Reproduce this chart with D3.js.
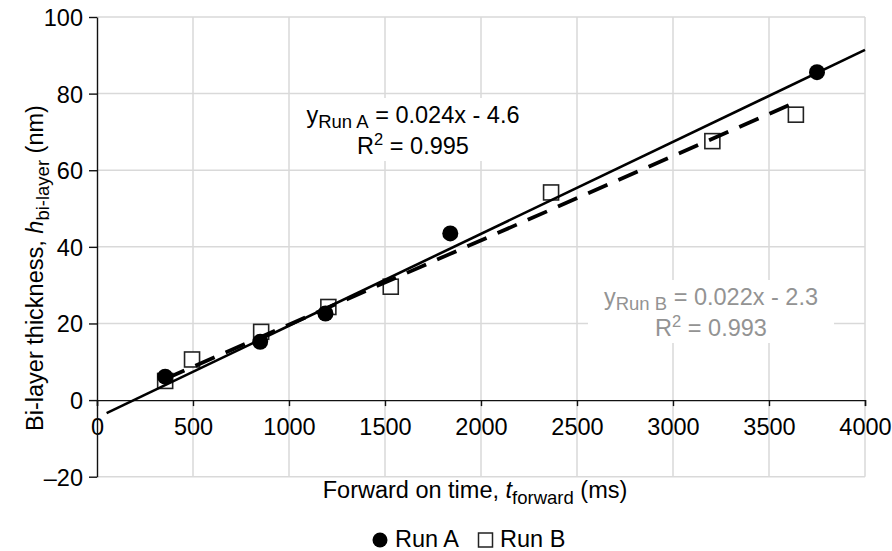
<!DOCTYPE html>
<html>
<head>
<meta charset="utf-8">
<script src="https://cdn.jsdelivr.net/npm/d3@7"></script>
<style>
body { margin: 0; background: #fff; }
text { font-family: "Liberation Sans", Arial, Helvetica, sans-serif; fill: #000; }
</style>
</head>
<body>
<svg id="chart"></svg>
<script>
let width = 892, height = 551;

// Run A (filled circles)
let runA_t = [355, 850, 1190, 1840, 3750];
let runA_h = [6.1, 15.2, 22.6, 43.5, 85.6];
// Run B (open squares)
let runB_t = [355, 495, 855, 1205, 1530, 2365, 3205, 3640];
let runB_h = [5.0, 10.6, 17.8, 24.3, 29.6, 54.2, 67.6, 74.5];

// linear trendlines as printed on the chart
let fitA = {slope: 0.024, icpt: -4.6, r2: "0.995", from: 50, to: 4000};
let fitB = {slope: 0.022, icpt: -2.3, r2: "0.993", from: 355, to: 3640};

let xTicks = [0, 500, 1000, 1500, 2000, 2500, 3000, 3500, 4000];
let yTicks = [-20, 0, 20, 40, 60, 80, 100];

let svg = d3.select("#chart")
  .attr("width", width)
  .attr("height", height);

let left = 97, right = 865, top_sp = 17, bottom = 476.7;
let fs = 23.5, fsSub = 18.5;

let xax = d3.scaleLinear()
  .domain([0, 4000])
  .range([left, right]);
let yax = d3.scaleLinear()
  .domain([-20, 100])
  .range([bottom, top_sp]);

//gridlines
let grid = svg.append("g");
grid.selectAll(".vg")
  .data(xTicks.filter(d => d > 0))
  .join("line")
  .attr("x1", d => xax(d)).attr("x2", d => xax(d))
  .attr("y1", top_sp).attr("y2", bottom)
  .attr("stroke", "#d9d9d9")
  .attr("stroke-width", 1.5);
grid.selectAll(".hg")
  .data(yTicks.filter(d => d != 0))
  .join("line")
  .attr("x1", left).attr("x2", right)
  .attr("y1", d => yax(d)).attr("y2", d => yax(d))
  .attr("stroke", "#d9d9d9")
  .attr("stroke-width", 1.5);

//x axis sits on y = 0
let xax_draw = d3.axisBottom(xax)
  .tickValues(xTicks)
  .tickSize(6)
  .tickFormat(d => d);
let gx = svg.append("g")
  .attr("transform", `translate(0, ${yax(0)})`)
  .call(xax_draw);
gx.select(".domain").attr("stroke", "#111").attr("stroke-width", 1.4);
gx.selectAll(".tick line").attr("stroke", "#111").attr("stroke-width", 1.4);
gx.selectAll(".tick text")
  .attr("y", 35).attr("dy", null)
  .attr("font-size", fs)
  .attr("font-family", null);

let yax_draw = d3.axisLeft(yax)
  .tickValues(yTicks)
  .tickSize(8)
  .tickSizeOuter(0)
  .tickFormat(d => d < 0 ? "\u2013" + Math.abs(d) : d);
let gy = svg.append("g")
  .attr("transform", `translate(${left}, 0)`)
  .call(yax_draw);
gy.select(".domain").attr("stroke", "#111").attr("stroke-width", 1.4);
gy.selectAll(".tick line").attr("stroke", "#111").attr("stroke-width", 1.4);
gy.selectAll(".tick text")
  .attr("x", -14).attr("dy", "0.36em")
  .attr("font-size", fs)
  .attr("font-family", null);

//markers
svg.append("g").selectAll("rect")
  .data(runB_t.map((t, i) => ({t: t, h: runB_h[i]})))
  .join("rect")
  .attr("x", d => xax(d.t) - 7.5)
  .attr("y", d => yax(d.h) - 7.5)
  .attr("width", 15).attr("height", 15)
  .attr("fill", "#fff")
  .attr("stroke", "#222")
  .attr("stroke-width", 1.6);
svg.append("g").selectAll("circle")
  .data(runA_t.map((t, i) => ({t: t, h: runA_h[i]})))
  .join("circle")
  .attr("cx", d => xax(d.t))
  .attr("cy", d => yax(d.h))
  .attr("r", 8)
  .attr("fill", "#000");

//trendlines
function fitLine(f) {
  return d3.line()
    .x(d => xax(d))
    .y(d => yax(f.slope * d + f.icpt))([f.from, f.to]);
}
svg.append("path")
  .attr("d", fitLine(fitB))
  .attr("stroke", "#000")
  .attr("stroke-width", 3.8)
  .attr("stroke-dasharray", "21,12")
  .attr("fill", "none");
svg.append("path")
  .attr("d", fitLine(fitA))
  .attr("stroke", "#000")
  .attr("stroke-width", 2.6)
  .attr("fill", "none");

//equation labels (white boxed, like the spreadsheet)
function eqLabel(cx, y1, name, f, color) {
  let g = svg.append("g");
  let box = g.append("rect").attr("fill", "#fff");
  let sign = f.icpt < 0 ? " - " : " + ";
  let t1 = g.append("text")
    .attr("x", cx).attr("y", y1)
    .attr("text-anchor", "middle")
    .attr("font-size", fs)
    .style("fill", color);
  t1.append("tspan").text("y");
  t1.append("tspan").text(name).attr("font-size", fsSub).attr("dy", 5);
  t1.append("tspan").text(` = ${f.slope}x${sign}${Math.abs(f.icpt)}`).attr("dy", -5);
  let t2 = g.append("text")
    .attr("x", cx).attr("y", y1 + 31)
    .attr("text-anchor", "middle")
    .attr("font-size", fs)
    .style("fill", color);
  t2.append("tspan").text("R");
  t2.append("tspan").text("2").attr("font-size", fsSub - 2).attr("dy", -9);
  t2.append("tspan").text(` = ${f.r2}`).attr("dy", 9);
  let b1 = t1.node().getBBox(), b2 = t2.node().getBBox();
  let x0 = Math.min(b1.x, b2.x) - 16, x1 = Math.max(b1.x + b1.width, b2.x + b2.width) + 16;
  box.attr("x", x0).attr("y", b1.y - 4)
    .attr("width", x1 - x0)
    .attr("height", b2.y + b2.height - b1.y + 6);
}
eqLabel(413, 123, "Run A", fitA, "#000");
eqLabel(711, 305, "Run B", fitB, "#939393");

//axis titles
let xt = svg.append("text")
  .attr("x", 475).attr("y", 498)
  .attr("text-anchor", "middle")
  .attr("font-size", fs);
xt.append("tspan").text("Forward on time, ");
xt.append("tspan").text("t").attr("font-style", "italic");
xt.append("tspan").text("forward").attr("font-size", fsSub).attr("dy", 6);
xt.append("tspan").text(" (ms)").attr("dy", -6);

let yt = svg.append("text")
  .attr("text-anchor", "middle")
  .attr("transform", `translate(43, 268) rotate(-90)`)
  .attr("font-size", fs);
yt.append("tspan").text("Bi-layer thickness, ");
yt.append("tspan").text("h").attr("font-style", "italic");
yt.append("tspan").text("bi-layer").attr("font-size", fsSub).attr("dy", 6);
yt.append("tspan").text(" (nm)").attr("dy", -6);

//legend
let leg = svg.append("g");
leg.append("circle")
  .attr("cx", 380).attr("cy", 540).attr("r", 7.5)
  .attr("fill", "#000");
leg.append("text")
  .attr("x", 395).attr("y", 547)
  .attr("font-size", fs)
  .text("Run A");
leg.append("rect")
  .attr("x", 478.5).attr("y", 533)
  .attr("width", 14).attr("height", 14)
  .attr("fill", "#fff")
  .attr("stroke", "#222")
  .attr("stroke-width", 1.5);
leg.append("text")
  .attr("x", 500).attr("y", 547)
  .attr("font-size", fs)
  .text("Run B");
</script>
</body>
</html>
